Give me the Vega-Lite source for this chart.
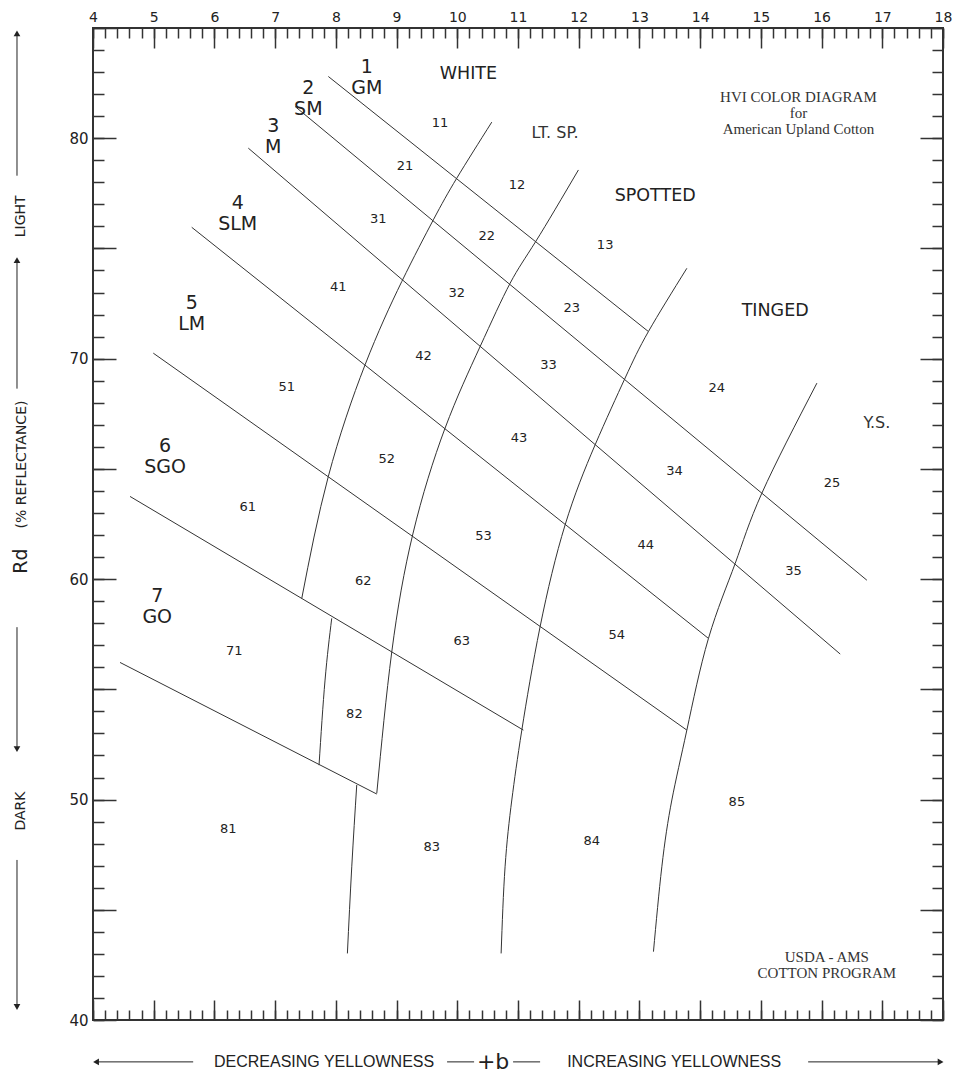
{
  "$schema": "https://vega.github.io/schema/vega-lite/v6.json",
  "width": 850,
  "height": 992,
  "autosize": "none",
  "padding": {"left": 93, "top": 28, "right": 11, "bottom": 54},
  "background": "white",
  "config": {
    "view": {"stroke": "#333", "strokeWidth": 2},
    "text": {"font": "DejaVu Sans", "color": "#222"},
    "axis": {"grid": false, "domain": false, "title": null, "tickColor": "#333", "tickWidth": 1.5, "labelColor": "#222", "labelFont": "DejaVu Sans"}
  },
  "datasets": {
    "grades": [
      {"id": "A", "o": 1, "x": 7.876, "y": 82.80}, {"id": "A", "o": 2, "x": 13.148, "y": 71.23},
      {"id": "B", "o": 1, "x": 7.328, "y": 81.44}, {"id": "B", "o": 2, "x": 16.746, "y": 59.95},
      {"id": "C", "o": 1, "x": 6.558, "y": 79.55}, {"id": "C", "o": 2, "x": 16.307, "y": 56.60},
      {"id": "D", "o": 1, "x": 5.626, "y": 75.96}, {"id": "D", "o": 2, "x": 14.137, "y": 57.31},
      {"id": "E", "o": 1, "x": 4.993, "y": 70.25}, {"id": "E", "o": 2, "x": 13.781, "y": 53.15},
      {"id": "F", "o": 1, "x": 4.610, "y": 63.75}, {"id": "F", "o": 2, "x": 11.089, "y": 53.15},
      {"id": "G", "o": 1, "x": 4.445, "y": 56.22}, {"id": "G", "o": 2, "x": 8.674, "y": 50.25}
    ],
    "curves": [
      {"id": "c1", "o": 1, "x": 10.568, "y": 80.73}, {"id": "c1", "o": 2, "x": 9.992, "y": 78.19},
      {"id": "c1", "o": 3, "x": 9.606, "y": 76.30}, {"id": "c1", "o": 4, "x": 9.086, "y": 73.50},
      {"id": "c1", "o": 5, "x": 8.481, "y": 69.72}, {"id": "c1", "o": 6, "x": 7.876, "y": 64.66},
      {"id": "c1", "o": 7, "x": 7.438, "y": 59.12},
      {"id": "c1b", "o": 1, "x": 7.932, "y": 58.22}, {"id": "c1b", "o": 2, "x": 7.822, "y": 55.42},
      {"id": "c1b", "o": 3, "x": 7.723, "y": 51.56},
      {"id": "c2", "o": 1, "x": 11.995, "y": 78.56}, {"id": "c2", "o": 2, "x": 11.293, "y": 75.32},
      {"id": "c2", "o": 3, "x": 10.870, "y": 73.42}, {"id": "c2", "o": 4, "x": 10.376, "y": 70.55},
      {"id": "c2", "o": 5, "x": 9.799, "y": 66.85}, {"id": "c2", "o": 6, "x": 9.272, "y": 62.09},
      {"id": "c2", "o": 7, "x": 8.921, "y": 56.70}, {"id": "c2", "o": 8, "x": 8.674, "y": 50.28},
      {"id": "c2b", "o": 1, "x": 8.344, "y": 50.66}, {"id": "c2b", "o": 2, "x": 8.262, "y": 46.95},
      {"id": "c2b", "o": 3, "x": 8.190, "y": 43.02},
      {"id": "c3", "o": 1, "x": 13.781, "y": 74.10}, {"id": "c3", "o": 2, "x": 13.148, "y": 71.23},
      {"id": "c3", "o": 3, "x": 12.764, "y": 69.12}, {"id": "c3", "o": 4, "x": 12.270, "y": 66.09},
      {"id": "c3", "o": 5, "x": 11.776, "y": 62.46}, {"id": "c3", "o": 6, "x": 11.364, "y": 57.84},
      {"id": "c3", "o": 7, "x": 11.063, "y": 53.15}, {"id": "c3", "o": 8, "x": 10.898, "y": 49.98},
      {"id": "c3", "o": 9, "x": 10.787, "y": 46.95}, {"id": "c3", "o": 10, "x": 10.722, "y": 43.02},
      {"id": "c4", "o": 1, "x": 15.923, "y": 68.89}, {"id": "c4", "o": 2, "x": 15.017, "y": 63.90},
      {"id": "c4", "o": 3, "x": 14.577, "y": 60.71}, {"id": "c4", "o": 4, "x": 14.137, "y": 57.31},
      {"id": "c4", "o": 5, "x": 13.781, "y": 53.15}, {"id": "c4", "o": 6, "x": 13.534, "y": 49.98},
      {"id": "c4", "o": 7, "x": 13.369, "y": 46.95}, {"id": "c4", "o": 8, "x": 13.231, "y": 43.10}
    ],
    "cells": [
      {"label": "11", "x": 9.717, "y": 80.71}, {"label": "21", "x": 9.140, "y": 78.74},
      {"label": "31", "x": 8.700, "y": 76.33}, {"label": "41", "x": 8.041, "y": 73.23},
      {"label": "51", "x": 7.191, "y": 68.71}, {"label": "61", "x": 6.549, "y": 63.27},
      {"label": "12", "x": 10.985, "y": 77.87}, {"label": "22", "x": 10.486, "y": 75.57},
      {"label": "32", "x": 9.992, "y": 72.97}, {"label": "42", "x": 9.442, "y": 70.13},
      {"label": "52", "x": 8.839, "y": 65.44}, {"label": "13", "x": 12.435, "y": 75.16},
      {"label": "23", "x": 11.886, "y": 72.32}, {"label": "33", "x": 11.501, "y": 69.72},
      {"label": "43", "x": 11.018, "y": 66.39}, {"label": "53", "x": 10.430, "y": 61.95},
      {"label": "24", "x": 14.275, "y": 68.66}, {"label": "34", "x": 13.577, "y": 64.91},
      {"label": "44", "x": 13.105, "y": 61.54}, {"label": "54", "x": 12.628, "y": 57.46},
      {"label": "25", "x": 16.170, "y": 64.35}, {"label": "35", "x": 15.537, "y": 60.36},
      {"label": "62", "x": 8.453, "y": 59.92}, {"label": "63", "x": 10.074, "y": 57.20},
      {"label": "71", "x": 6.328, "y": 56.73}, {"label": "81", "x": 6.229, "y": 48.65},
      {"label": "82", "x": 8.305, "y": 53.88}, {"label": "83", "x": 9.580, "y": 47.86},
      {"label": "84", "x": 12.216, "y": 48.13}, {"label": "85", "x": 14.605, "y": 49.87}
    ],
    "gradeNames": [
      {"label": "1\nGM", "x": 8.509, "y": 83.22}, {"label": "2\nSM", "x": 7.547, "y": 82.27},
      {"label": "3\nM", "x": 6.970, "y": 80.55}, {"label": "4\nSLM", "x": 6.384, "y": 77.07},
      {"label": "5\nLM", "x": 5.626, "y": 72.53}, {"label": "6\nSGO", "x": 5.186, "y": 66.04},
      {"label": "7\nGO", "x": 5.058, "y": 59.24}
    ],
    "colorNames": [
      {"label": "WHITE", "x": 10.183, "y": 82.92}, {"label": "SPOTTED", "x": 13.259, "y": 77.36},
      {"label": "TINGED", "x": 15.236, "y": 72.17}
    ],
    "colorNamesSmall": [
      {"label": "LT. SP.", "x": 11.611, "y": 80.23}, {"label": "Y.S.", "x": 16.911, "y": 67.07}
    ],
    "notes": [
      {"label": "HVI COLOR DIAGRAM\nfor\nAmerican Upland Cotton", "x": 15.619, "y": 81.85},
      {"label": "USDA - AMS\nCOTTON PROGRAM", "x": 16.087, "y": 42.86}
    ],
    "bottomText": [
      {"label": "DECREASING YELLOWNESS", "x": 7.806, "y": 38.1},
      {"label": "INCREASING YELLOWNESS", "x": 13.572, "y": 38.1}
    ],
    "bText": [{"label": "+b", "x": 10.59, "y": 38.1}],
    "sideText": [
      {"label": "LIGHT", "x": 2.81, "y": 76.46},
      {"label": "(% REFLECTANCE)", "x": 2.83, "y": 65.2},
      {"label": "DARK", "x": 2.81, "y": 49.48}
    ],
    "rdText": [{"label": "Rd", "x": 2.81, "y": 60.82}],
    "arrowLines": [
      {"x": 4.066, "x2": 5.65, "y": 38.1, "y2": 38.1},
      {"x": 9.832, "x2": 10.277, "y": 38.1, "y2": 38.1},
      {"x": 10.919, "x2": 11.364, "y": 38.1, "y2": 38.1},
      {"x": 15.779, "x2": 17.92, "y": 38.1, "y2": 38.1},
      {"x": 2.748, "x2": 2.748, "y": 84.81, "y2": 78.30},
      {"x": 2.748, "x2": 2.748, "y": 74.38, "y2": 68.64},
      {"x": 2.748, "x2": 2.748, "y": 57.82, "y2": 52.34},
      {"x": 2.748, "x2": 2.748, "y": 47.26, "y2": 40.68}
    ],
    "arrowHeads": [
      {"dir": "left", "x": 4.05, "y": 38.1},
      {"dir": "right", "x": 17.96, "y": 38.1},
      {"dir": "up", "x": 2.748, "y": 84.76},
      {"dir": "up", "x": 2.748, "y": 74.47},
      {"dir": "down", "x": 2.748, "y": 52.29},
      {"dir": "down", "x": 2.748, "y": 40.59}
    ]
  },
  "resolve": {"axis": {"x": "independent", "y": "independent"}},
  "layer": [
    {
      "data": {"name": "grades"},
      "mark": {"type": "line", "stroke": "#333", "strokeWidth": 1, "interpolate": "linear"},
      "encoding": {
        "x": {"field": "x", "type": "quantitative", "scale": {"domain": [4, 18], "nice": false, "zero": false},
              "axis": {"orient": "top", "values": [4,5,6,7,8,9,10,11,12,13,14,15,16,17,18], "ticks": false, "labelFontSize": 14, "labelPadding": 4, "labelFlush": false}},
        "y": {"field": "y", "type": "quantitative", "scale": {"domain": [40, 85], "nice": false, "zero": false},
              "axis": {"orient": "left", "values": [40,50,60,70,80], "ticks": false, "labelFontSize": 15, "labelPadding": 5, "labelFlush": false}},
        "detail": {"field": "id"},
        "order": {"field": "o"}
      }
    },
    {
      "data": {"name": "curves"},
      "mark": {"type": "line", "stroke": "#333", "strokeWidth": 1, "interpolate": "natural"},
      "encoding": {
        "x": {"field": "x", "type": "quantitative",
              "axis": {"orient": "top", "values": [4,5,6,7,8,9,10,11,12,13,14,15,16,17,18], "labels": false, "tickSize": -20}},
        "y": {"field": "y", "type": "quantitative",
              "axis": {"orient": "left", "values": [40,45,50,55,60,65,70,75,80,85], "labels": false, "tickSize": -23}},
        "detail": {"field": "id"},
        "order": {"field": "o"}
      }
    },
    {
      "data": {"name": "cells"},
      "mark": {"type": "text", "fontSize": 13, "align": "center", "baseline": "middle"},
      "encoding": {
        "x": {"field": "x", "type": "quantitative",
              "axis": {"orient": "top", "values": [4,4.2,4.4,4.6,4.8,5,5.2,5.4,5.6,5.8,6,6.2,6.4,6.6,6.8,7,7.2,7.4,7.6,7.8,8,8.2,8.4,8.6,8.8,9,9.2,9.4,9.6,9.8,10,10.2,10.4,10.6,10.8,11,11.2,11.4,11.6,11.8,12,12.2,12.4,12.6,12.8,13,13.2,13.4,13.6,13.8,14,14.2,14.4,14.6,14.8,15,15.2,15.4,15.6,15.8,16,16.2,16.4,16.6,16.8,17,17.2,17.4,17.6,17.8,18], "labels": false, "tickSize": -10}},
        "y": {"field": "y", "type": "quantitative",
              "axis": {"orient": "left", "values": [40,41,42,43,44,45,46,47,48,49,50,51,52,53,54,55,56,57,58,59,60,61,62,63,64,65,66,67,68,69,70,71,72,73,74,75,76,77,78,79,80,81,82,83,84,85], "labels": false, "tickSize": -11}},
        "text": {"field": "label"}
      }
    },
    {
      "data": {"name": "gradeNames"},
      "mark": {"type": "text", "fontSize": 19, "align": "center", "baseline": "middle", "lineBreak": "\n", "lineHeight": 21},
      "encoding": {
        "x": {"field": "x", "type": "quantitative",
              "axis": {"orient": "bottom", "values": [4,5,6,7,8,9,10,11,12,13,14,15,16,17,18], "labels": false, "tickSize": -20}},
        "y": {"field": "y", "type": "quantitative",
              "axis": {"orient": "right", "values": [40,45,50,55,60,65,70,75,80,85], "labels": false, "tickSize": -23}},
        "text": {"field": "label"}
      }
    },
    {
      "data": {"name": "colorNames"},
      "mark": {"type": "text", "fontSize": 17.5, "align": "center", "baseline": "middle"},
      "encoding": {
        "x": {"field": "x", "type": "quantitative",
              "axis": {"orient": "bottom", "values": [4,4.2,4.4,4.6,4.8,5,5.2,5.4,5.6,5.8,6,6.2,6.4,6.6,6.8,7,7.2,7.4,7.6,7.8,8,8.2,8.4,8.6,8.8,9,9.2,9.4,9.6,9.8,10,10.2,10.4,10.6,10.8,11,11.2,11.4,11.6,11.8,12,12.2,12.4,12.6,12.8,13,13.2,13.4,13.6,13.8,14,14.2,14.4,14.6,14.8,15,15.2,15.4,15.6,15.8,16,16.2,16.4,16.6,16.8,17,17.2,17.4,17.6,17.8,18], "labels": false, "tickSize": -10}},
        "y": {"field": "y", "type": "quantitative",
              "axis": {"orient": "right", "values": [40,41,42,43,44,45,46,47,48,49,50,51,52,53,54,55,56,57,58,59,60,61,62,63,64,65,66,67,68,69,70,71,72,73,74,75,76,77,78,79,80,81,82,83,84,85], "labels": false, "tickSize": -11}},
        "text": {"field": "label"}
      }
    },
    {
      "data": {"name": "colorNamesSmall"},
      "mark": {"type": "text", "fontSize": 16, "align": "center", "baseline": "middle", "color": "#333"},
      "encoding": {
        "x": {"field": "x", "type": "quantitative", "axis": null},
        "y": {"field": "y", "type": "quantitative", "axis": null},
        "text": {"field": "label"}
      }
    },
    {
      "data": {"name": "notes"},
      "mark": {"type": "text", "font": "Liberation Serif", "fontSize": 15, "align": "center", "baseline": "middle", "lineBreak": "\n", "lineHeight": 16, "color": "#333"},
      "encoding": {
        "x": {"field": "x", "type": "quantitative", "axis": null},
        "y": {"field": "y", "type": "quantitative", "axis": null},
        "text": {"field": "label"}
      }
    },
    {
      "data": {"name": "bottomText"},
      "mark": {"type": "text", "font": "Liberation Sans", "fontSize": 16, "align": "center", "baseline": "middle"},
      "encoding": {
        "x": {"field": "x", "type": "quantitative", "axis": null},
        "y": {"field": "y", "type": "quantitative", "axis": null},
        "text": {"field": "label"}
      }
    },
    {
      "data": {"name": "bText"},
      "mark": {"type": "text", "fontSize": 22, "align": "center", "baseline": "middle"},
      "encoding": {
        "x": {"field": "x", "type": "quantitative", "axis": null},
        "y": {"field": "y", "type": "quantitative", "axis": null},
        "text": {"field": "label"}
      }
    },
    {
      "data": {"name": "sideText"},
      "mark": {"type": "text", "fontSize": 14, "align": "center", "baseline": "middle", "angle": 270},
      "encoding": {
        "x": {"field": "x", "type": "quantitative", "axis": null},
        "y": {"field": "y", "type": "quantitative", "axis": null},
        "text": {"field": "label"}
      }
    },
    {
      "data": {"name": "rdText"},
      "mark": {"type": "text", "fontSize": 19, "align": "center", "baseline": "middle", "angle": 270},
      "encoding": {
        "x": {"field": "x", "type": "quantitative", "axis": null},
        "y": {"field": "y", "type": "quantitative", "axis": null},
        "text": {"field": "label"}
      }
    },
    {
      "data": {"name": "arrowLines"},
      "mark": {"type": "rule", "stroke": "#222", "strokeWidth": 1},
      "encoding": {
        "x": {"field": "x", "type": "quantitative", "axis": null},
        "x2": {"field": "x2"},
        "y": {"field": "y", "type": "quantitative", "axis": null},
        "y2": {"field": "y2"}
      }
    },
    {
      "data": {"name": "arrowHeads"},
      "mark": {"type": "point", "filled": true, "size": 45, "color": "#222", "opacity": 1},
      "encoding": {
        "x": {"field": "x", "type": "quantitative", "axis": null},
        "y": {"field": "y", "type": "quantitative", "axis": null},
        "shape": {"field": "dir", "type": "nominal", "legend": null,
                  "scale": {"domain": ["up", "down", "left", "right"], "range": ["triangle-up", "triangle-down", "triangle-left", "triangle-right"]}}
      }
    }
  ]
}
